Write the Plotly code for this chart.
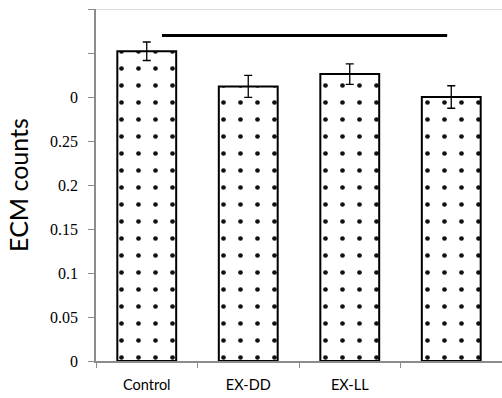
import plotly.graph_objects as go

categories = ["Control", "EX-DD", "EX-LL", " "]
values = [0.352, 0.312, 0.326, 0.300]
errors = [0.0105, 0.0125, 0.0117, 0.0128]
tick_vals = [0, 0.05, 0.1, 0.15, 0.2, 0.25, 0.3, 0.35, 0.4]
tick_text = ["0", "0.05", "0.1", "0.15", "0.2", "0.25", "0", "", ""]
sig_y = 0.370

fig = go.Figure()
fig.add_trace(go.Bar(
    x=categories, y=values,
    width=0.58,
    marker=dict(color="white", line=dict(color="black", width=2),
                pattern=dict(shape=".", fgcolor="#111", bgcolor="white", fgopacity=1,
                             fillmode="replace", size=17, solidity=0.06)),
    error_y=dict(type="data", array=errors, visible=True, color="black", thickness=1.3, width=4),
))

fig.add_shape(type="line", xref="x", yref="y", x0=0.15, x1=2.96, y0=sig_y, y1=sig_y,
              line=dict(color="black", width=3))
fig.add_shape(type="line", xref="paper", yref="y", x0=0, x1=1, y0=0.4, y1=0.4,
              line=dict(color="#d0d0d0", width=1.5))

fig.update_layout(
    width=502, height=398,
    margin=dict(l=96, r=0, t=9, b=37, autoexpand=False),
    paper_bgcolor="white", plot_bgcolor="white",
    showlegend=False,
    xaxis=dict(showline=True, linecolor="#8c8c8c", linewidth=1.5, tickson="boundaries",
               ticks="outside", ticklen=5, tickcolor="#8c8c8c", ticklabelstandoff=10,
               tickfont=dict(family="Lato", size=14.5, color="black")),
    yaxis=dict(range=[0, 0.4], tickvals=tick_vals, ticktext=tick_text,
               showline=True, linecolor="#8c8c8c", linewidth=1.5, showgrid=False, zeroline=False,
               ticks="outside", ticklen=6, tickcolor="#8c8c8c", ticklabelstandoff=7,
               tickfont=dict(family="Liberation Serif, Times New Roman, serif", size=16, color="black"),
               title=dict(text="ECM counts", font=dict(family="Lato", size=25, color="black"), standoff=14)),
)
fig.write_html("out.html", config={"displayModeBar": False},
               post_script="document.body.style.margin='0';")
